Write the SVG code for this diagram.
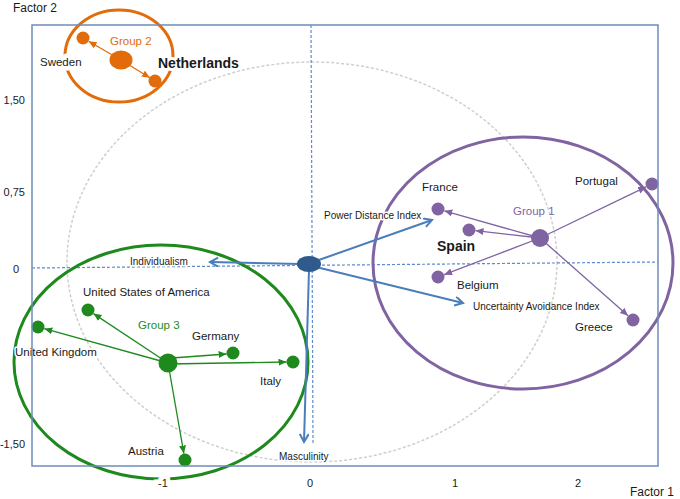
<svg xmlns="http://www.w3.org/2000/svg" width="680" height="499" viewBox="0 0 680 499">
<style>
text{font-family:"Liberation Sans",Arial,sans-serif;fill:#1a1a1a}
.t{font-size:11px}
.lab{font-size:11.5px}
.idx{font-size:10px}
.big{font-size:14px;font-weight:bold}
.halo{paint-order:stroke;stroke:#fff;stroke-width:3;stroke-linejoin:round}
.g1{stroke:#8064A2;fill:none}
.g2{stroke:#E36C0A;fill:none}
.g3{stroke:#1E8A1E;fill:none}
.ba{stroke:#4A7EBB;stroke-width:2;fill:none}
</style>
<defs>
<marker id="ab" markerUnits="userSpaceOnUse" markerWidth="12" markerHeight="12" refX="9" refY="5" orient="auto"><path d="M1,0.5 L9,5 L1,9.5" fill="none" stroke="#4A7EBB" stroke-width="2"/></marker>
<marker id="a1" markerUnits="userSpaceOnUse" markerWidth="9" markerHeight="8" refX="8" refY="3.5" orient="auto"><path d="M0,0 L8,3.5 L0,7 Z" fill="#8064A2"/></marker>
<marker id="a2" markerUnits="userSpaceOnUse" markerWidth="9" markerHeight="8" refX="8" refY="3.5" orient="auto"><path d="M0,0 L8,3.5 L0,7 Z" fill="#E36C0A"/></marker>
<marker id="a3" markerUnits="userSpaceOnUse" markerWidth="9" markerHeight="8" refX="8" refY="3.5" orient="auto"><path d="M0,0 L8,3.5 L0,7 Z" fill="#1E8A1E"/></marker>
</defs>
<rect width="680" height="499" fill="#fff"/>
<g id="background">
<ellipse cx="312" cy="262" rx="245" ry="200" fill="none" stroke="#cfcfcf" stroke-width="1.5" stroke-dasharray="3,2"/>
<line x1="32" y1="268" x2="658" y2="262" stroke="#5B8BD0" stroke-width="1.2" stroke-dasharray="3,2"/>
<line x1="311" y1="25" x2="313" y2="443" stroke="#5B8BD0" stroke-width="1.2" stroke-dasharray="3,2"/>
</g>
<g id="circles">
<ellipse id="group1-circle" class="g1" cx="523" cy="263" rx="150" ry="126" stroke-width="3"/>
<ellipse id="group2-circle" class="g2" cx="119" cy="56" rx="54" ry="46" stroke-width="3"/>
<ellipse id="group3-circle" class="g3" cx="161" cy="362" rx="147" ry="117" stroke-width="3"/>
</g>
<g id="connectors">
<line class="ba" x1="300" y1="264" x2="210" y2="262" marker-end="url(#ab)"/>
<line class="ba" x1="316" y1="261" x2="432" y2="220" marker-end="url(#ab)"/>
<line class="ba" x1="316" y1="267" x2="463" y2="303" marker-end="url(#ab)"/>
<line class="ba" x1="309" y1="270" x2="304" y2="442" marker-end="url(#ab)"/>
<g class="g1" stroke-width="1.3">
<line x1="540" y1="238" x2="444.3" y2="210.8" marker-end="url(#a1)"/>
<line x1="540" y1="238" x2="475.5" y2="230.7" marker-end="url(#a1)"/>
<line x1="540" y1="238" x2="444.1" y2="274.7" marker-end="url(#a1)"/>
<line x1="540" y1="238" x2="646.1" y2="186.8" marker-end="url(#a1)"/>
<line x1="540" y1="238" x2="628.1" y2="315.7" marker-end="url(#a1)"/>
</g>
<g class="g2" stroke-width="1.3">
<line x1="121" y1="60" x2="88.6" y2="41.3" marker-end="url(#a2)"/>
<line x1="121" y1="60" x2="149.9" y2="77.8" marker-end="url(#a2)"/>
</g>
<g class="g3" stroke-width="1.3">
<line x1="168" y1="363" x2="93.4" y2="313.6" marker-end="url(#a3)"/>
<line x1="168" y1="363" x2="44.3" y2="328.7" marker-end="url(#a3)"/>
<line x1="172" y1="358" x2="226.6" y2="354" marker-end="url(#a3)"/>
<line x1="168" y1="364" x2="286.5" y2="362" marker-end="url(#a3)"/>
<line x1="168" y1="363" x2="183.9" y2="453.6" marker-end="url(#a3)"/>
</g>
</g>
<g id="center"><ellipse cx="309" cy="264" rx="12" ry="8" fill="#2F5A8C"/></g>
<g id="group1" fill="#8064A2">
<circle cx="540" cy="238" r="9"/>
<circle id="france" cx="438" cy="209" r="6.5"/>
<circle id="spain" cx="469" cy="230" r="6.5"/>
<circle id="belgium" cx="438" cy="277" r="6.5"/>
<circle id="portugal" cx="652" cy="184" r="6.5"/>
<circle id="greece" cx="633" cy="320" r="6.5"/>
</g>
<g id="group2" fill="#E36C0A">
<ellipse cx="121" cy="60" rx="11.5" ry="9.5"/>
<circle id="sweden" cx="83" cy="38" r="6.5"/>
<circle id="netherlands" cx="155" cy="81" r="6.5"/>
</g>
<g id="group3" fill="#1E8A1E">
<circle cx="168" cy="363" r="9.5"/>
<circle id="usa" cx="88" cy="310" r="6.5"/>
<circle id="uk" cx="38" cy="327" r="6.5"/>
<circle id="germany" cx="233" cy="353" r="6.5"/>
<circle id="italy" cx="293" cy="362" r="6.5"/>
<circle id="austria" cx="185" cy="460" r="6.5"/>
</g>
<g id="labels">
<text class="lab" x="422" y="191">France</text>
<text class="lab" x="575" y="185">Portugal</text>
<text class="lab" x="513" y="215" style="fill:#8064A2">Group 1</text>
<text class="big" x="437" y="251">Spain</text>
<text class="lab" x="457" y="289">Belgium</text>
<text class="lab" x="575" y="331">Greece</text>
<text class="idx halo" x="324" y="219">Power Distance Index</text>
<text class="idx" x="473" y="310">Uncertainty Avoidance Index</text>
<text class="idx halo" x="130" y="265">Individualism</text>
<text class="idx halo" x="279" y="460">Masculinity</text>
<text class="lab" x="110" y="45" style="fill:#E36C0A">Group 2</text>
<text class="lab" x="40" y="66" style="paint-order:stroke;stroke:#fff;stroke-width:9;stroke-linejoin:round">Sweden</text>
<text class="big" x="158" y="68" style="paint-order:stroke;stroke:#fff;stroke-width:6;stroke-linejoin:round">Netherlands</text>
<text class="lab" x="83" y="296">United States of America</text>
<text class="lab" x="138" y="329" style="fill:#1E8A1E">Group 3</text>
<text class="lab" x="192" y="340">Germany</text>
<text class="lab halo" x="15" y="356">United Kingdom</text>
<text class="lab" x="260" y="385">Italy</text>
<text class="lab" x="128" y="455">Austria</text>
</g>
<g id="axes">
<rect x="32" y="25" width="626" height="441" fill="none" stroke="#6F8CBA" stroke-width="1.5"/>
<text class="lab" x="13" y="12" style="font-size:12px">Factor 2</text>
<text class="t" x="25" y="104" text-anchor="end">1,50</text>
<text class="t" x="25" y="196" text-anchor="end">0,75</text>
<text class="t" x="16" y="273" text-anchor="middle">0</text>
<text class="t" x="25" y="448" text-anchor="end">-1,50</text>
<text class="t" x="163" y="487" text-anchor="middle" style="paint-order:stroke;stroke:#fff;stroke-width:9">-1</text>
<text class="t" x="310" y="487" text-anchor="middle">0</text>
<text class="t" x="455" y="487" text-anchor="middle">1</text>
<text class="t" x="578" y="487" text-anchor="middle">2</text>
<text class="lab" x="630" y="496" style="font-size:12px">Factor 1</text>
</g>
</svg>
